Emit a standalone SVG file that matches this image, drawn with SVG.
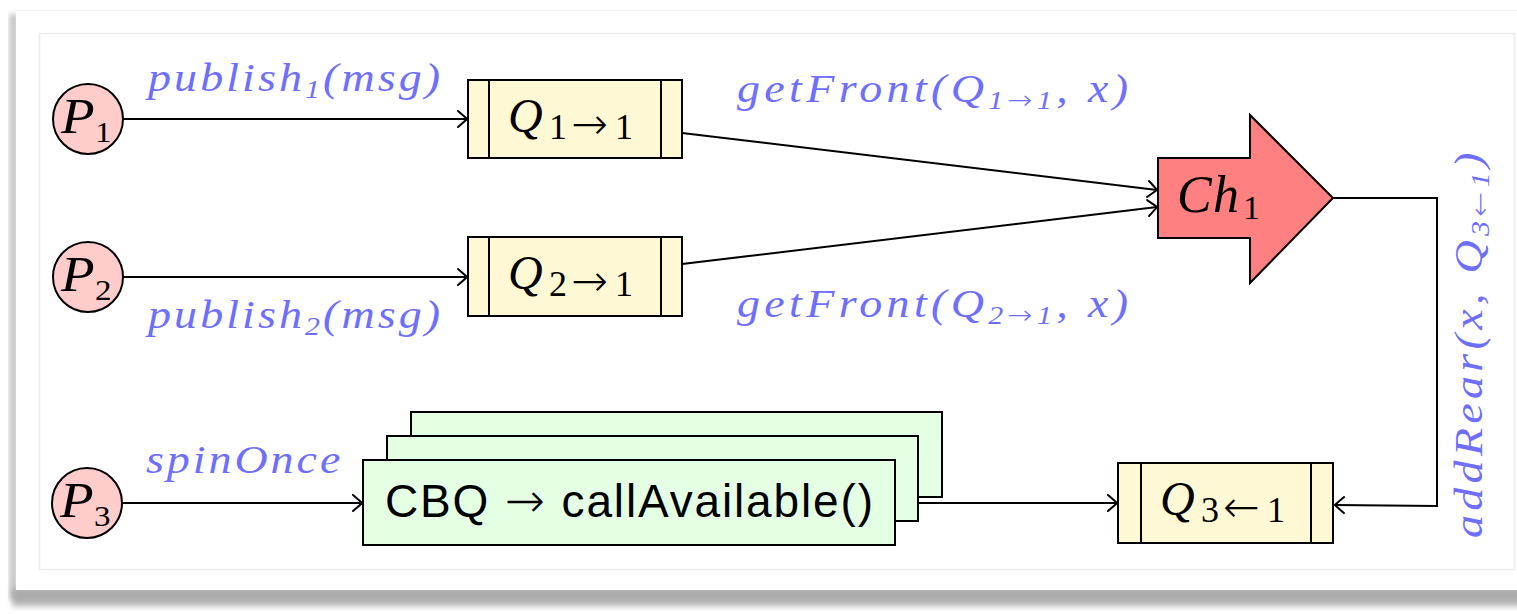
<svg xmlns="http://www.w3.org/2000/svg" width="1517" height="614" viewBox="0 0 1517 614">
  <style>
    .edge { fill: none; stroke: #000; stroke-width: 2; }
    .arr { marker-end: url(#tip); }
    .proc { fill: #ffcccc; stroke: #000; stroke-width: 2; }
    .queue { fill: #fff8d4; stroke: #000; stroke-width: 2; }
    .qline { stroke: #000; stroke-width: 2; }
    .chan { fill: #ff8080; stroke: #000; stroke-width: 2; stroke-linejoin: miter; }
    .cbq { fill: #e5ffe5; stroke: #000; stroke-width: 2; }
    .math { font-family: "Liberation Serif", "DejaVu Serif", serif; font-style: italic; fill: #000; }
    .up { font-style: normal; }
    .ar { font-family: "DejaVu Sans", sans-serif; font-style: normal; font-weight: 200; }
    .lbl { font-family: "Liberation Serif", "DejaVu Serif", serif; font-style: italic; font-size: 40px; fill: #6e6eff; }
    .sans { font-family: "Liberation Sans", "DejaVu Sans", sans-serif; font-size: 46px; fill: #000; }
  </style>
  <defs>
    <marker id="tip" viewBox="-12 -10 14 20" markerWidth="14" markerHeight="20" refX="0" refY="0" orient="auto" markerUnits="userSpaceOnUse">
      <path d="M -9 -8 Q -2 -2 0 0 Q -2 2 -9 8" fill="none" stroke="#000" stroke-width="2" stroke-linecap="round"/>
    </marker>
    <filter id="soft" x="-5%" y="-50%" width="110%" height="200%">
      <feGaussianBlur stdDeviation="2.5"/>
    </filter>
    <linearGradient id="shadeBottom" x1="0" y1="0" x2="0" y2="1">
      <stop offset="0" stop-color="#c4c4c4"/>
      <stop offset="0.35" stop-color="#a6a6a6"/>
      <stop offset="0.75" stop-color="#b4b4b4"/>
      <stop offset="1" stop-color="#e6e6e6"/>
    </linearGradient>
  </defs>

  <!-- page and card -->
  <rect x="0" y="0" width="1517" height="614" fill="#fff"/>
  <g id="card">
    <rect x="9" y="14" width="9" height="586" fill="#c9c9c9" filter="url(#soft)"/>
    <rect x="12" y="586" width="1510" height="22" fill="url(#shadeBottom)" filter="url(#soft)"/>
    <rect x="16" y="10" width="1505" height="580" fill="#fff"/>
    <line x1="16" y1="10.5" x2="1517" y2="10.5" stroke="#f2f2f2" stroke-width="1"/>
    <rect x="39.5" y="33.5" width="1475" height="536" fill="none" stroke="#ececec" stroke-width="1.5"/>
  </g>

  <!-- connectors -->
  <g id="connectors">
    <path class="edge arr" d="M 123 119 L 467 119"/>
    <path class="edge arr" d="M 123 277 L 467 277"/>
    <path class="edge arr" d="M 122 503 L 362 503"/>
    <path class="edge arr" d="M 682 133 L 1157 190"/>
    <path class="edge arr" d="M 682 264 L 1157 207"/>
    <path class="edge arr" d="M 895 503 L 1117 503"/>
    <path class="edge arr" d="M 1333 198 L 1437 198 L 1437 506 L 1335 505"/>
  </g>

  <!-- edge labels -->
  <g id="labels">
    <text class="lbl" transform="translate(148 91) scale(1.15 1)" textLength="254" lengthAdjust="spacing">publish<tspan font-size="26" dy="7">1</tspan><tspan dy="-7">(msg)</tspan></text>
    <text class="lbl" transform="translate(148 328) scale(1.15 1)" textLength="254" lengthAdjust="spacing">publish<tspan font-size="26" dy="7">2</tspan><tspan dy="-7">(msg)</tspan></text>
    <text class="lbl" transform="translate(737 102) scale(1.15 1)" textLength="340" lengthAdjust="spacing">getFront(Q<tspan font-size="26" dy="7">1<tspan class="ar">→</tspan>1</tspan><tspan dy="-7">, x)</tspan></text>
    <text class="lbl" transform="translate(737 317) scale(1.15 1)" textLength="340" lengthAdjust="spacing">getFront(Q<tspan font-size="26" dy="7">2<tspan class="ar">→</tspan>1</tspan><tspan dy="-7">, x)</tspan></text>
    <text class="lbl" transform="translate(146 473) scale(1.15 1)" textLength="169" lengthAdjust="spacing">spinOnce</text>
    <text class="lbl" transform="translate(1482 538) rotate(-90) scale(1.15 1)" textLength="335" lengthAdjust="spacing">addRear(x, Q<tspan font-size="26" dy="7">3<tspan class="ar">←</tspan>1</tspan><tspan dy="-7">)</tspan></text>
  </g>

  <!-- processes -->
  <g id="P1">
    <circle class="proc" cx="88" cy="119" r="35"/>
    <text class="math" transform="translate(61 133) scale(1.1 1)" font-size="50">P<tspan class="up" font-size="30" x="31" dy="9">1</tspan></text>
  </g>
  <g id="P2">
    <circle class="proc" cx="88" cy="277" r="35"/>
    <text class="math" transform="translate(61 291) scale(1.1 1)" font-size="50">P<tspan class="up" font-size="30" x="31" dy="9">2</tspan></text>
  </g>
  <g id="P3">
    <circle class="proc" cx="87" cy="503" r="35"/>
    <text class="math" transform="translate(60 517) scale(1.1 1)" font-size="50">P<tspan class="up" font-size="30" x="31" dy="9">3</tspan></text>
  </g>

  <!-- queues -->
  <g id="Q1">
    <rect class="queue" x="468" y="80" width="214" height="78"/>
    <line class="qline" x1="489" y1="80" x2="489" y2="158"/>
    <line class="qline" x1="661" y1="80" x2="661" y2="158"/>
    <text class="math" y="132" font-size="48"><tspan x="508">Q</tspan><tspan class="up" font-size="36" x="549" dy="7">1</tspan><tspan class="ar" font-size="44" x="571">→</tspan><tspan class="up" font-size="36" x="615">1</tspan></text>
  </g>
  <g id="Q2">
    <rect class="queue" x="468" y="237" width="214" height="79"/>
    <line class="qline" x1="489" y1="237" x2="489" y2="316"/>
    <line class="qline" x1="661" y1="237" x2="661" y2="316"/>
    <text class="math" y="289" font-size="48"><tspan x="508">Q</tspan><tspan class="up" font-size="36" x="549" dy="7">2</tspan><tspan class="ar" font-size="44" x="571">→</tspan><tspan class="up" font-size="36" x="615">1</tspan></text>
  </g>
  <g id="Q3">
    <rect class="queue" x="1118" y="463" width="215" height="80"/>
    <line class="qline" x1="1141" y1="463" x2="1141" y2="543"/>
    <line class="qline" x1="1311" y1="463" x2="1311" y2="543"/>
    <text class="math" y="515" font-size="48"><tspan x="1160">Q</tspan><tspan class="up" font-size="36" x="1201" dy="7">3</tspan><tspan class="ar" font-size="44" x="1223">←</tspan><tspan class="up" font-size="36" x="1267">1</tspan></text>
  </g>

  <!-- channel -->
  <g id="Ch1">
    <polygon class="chan" points="1158,158 1250,158 1250,115 1333,198 1250,283 1250,238 1158,238"/>
    <text class="math" y="212" font-size="52"><tspan x="1177">C</tspan><tspan x="1213">h</tspan><tspan class="up" font-size="34" x="1243" dy="7">1</tspan></text>
  </g>

  <!-- callback queue stack -->
  <g id="CBQ">
    <rect class="cbq" x="411" y="412" width="531" height="85"/>
    <rect class="cbq" x="387" y="436" width="531" height="85"/>
    <rect class="cbq" x="363" y="460" width="532" height="85"/>
    <text class="sans" x="385" y="517" textLength="488" lengthAdjust="spacing">CBQ <tspan class="ar" font-size="48">→</tspan> callAvailable()</text>
  </g>
</svg>
